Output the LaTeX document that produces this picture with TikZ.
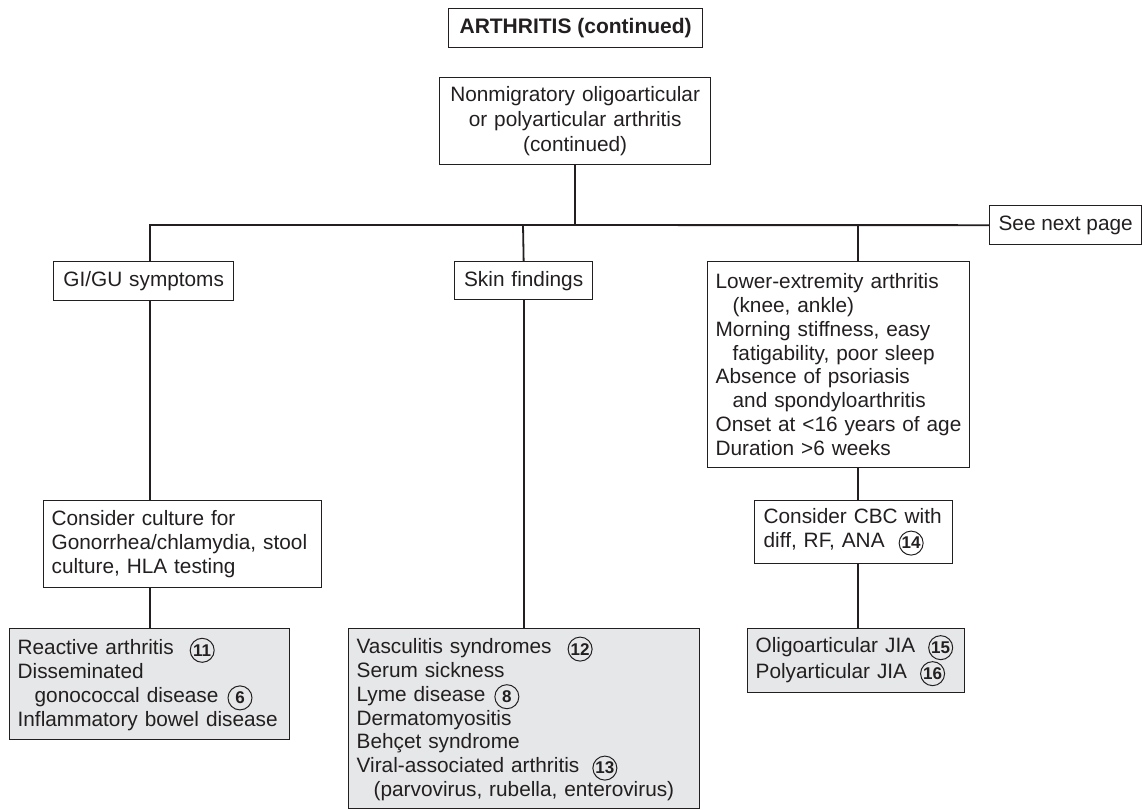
\documentclass[tikz,border=0pt]{standalone}
\usepackage{fontspec}
\setmainfont{Liberation Sans}
\definecolor{ink}{HTML}{231F20}
\definecolor{shade}{HTML}{E6E7E8}
\newcommand\cnum[1]{\tikz[baseline={([yshift=-4.5pt]cn.center)}]\node[draw=ink,circle,line width=1pt,inner sep=0pt,minimum size=24pt,font=\fontsize{17}{17}\selectfont\bfseries](cn){#1};}
\newcommand\ind{\hspace*{17pt}}
\newcommand\one[1]{\mbox{#1}}
\tikzset{
  box/.style={draw=ink,line width=1.3pt,inner xsep=8pt,inner ysep=0pt,anchor=north west,
    font=\fontsize{20.8}{23.8}\selectfont,text=ink},
  lbox/.style={box,align=left},
  cbox/.style={box,align=center},
  res/.style={lbox,fill=shade},
  conn/.style={draw=ink,line width=1.8pt}
}
\begin{document}
\begin{tikzpicture}[x=1pt,y=-1pt]
\useasboundingbox (0,0) rectangle (1142,809);
% boxes
\node[cbox,minimum width=254pt,minimum height=39pt,font=\fontsize{21}{23.8}\selectfont\bfseries] (title) at (448,8) {ARTHRITIS (continued)};
\node[cbox,minimum width=271pt,minimum height=87pt,text width=255pt,font=\fontsize{20.8}{24.6}\selectfont] (main) at (439,77) {Nonmigratory oligoarticular\\or polyarticular arthritis\\(continued)};
\node[lbox,minimum width=152pt,minimum height=39pt] (seenext) at (989,205) {See next page};
\node[cbox,minimum width=180pt,minimum height=39pt,text width=164pt] (gigu) at (53,261) {GI/GU symptoms};
\node[cbox,minimum width=138pt,minimum height=38pt,text width=122pt] (skin) at (454,261) {Skin findings};
\node[lbox,minimum width=262pt,minimum height=206pt,text width=246pt] (lower) at (707,261) {\one{Lower-extremity arthritis}\\\ind(knee, ankle)\\\one{Morning stiffness, easy}\\\ind\one{fatigability, poor sleep}\\Absence of psoriasis\\\ind\one{and spondyloarthritis}\\\one{Onset at <16 years of age}\\Duration >6 weeks};
\node[lbox,minimum width=278pt,minimum height=87pt,text width=262pt] (culture) at (43,500) {Consider culture for\\\one{Gonorrhea/chlamydia, stool}\\culture, HLA testing};
\node[lbox,minimum width=198pt,minimum height=63pt,text width=180pt,inner xsep=9pt] (cbc) at (754,500) {Consider CBC with\\\one{diff, RF, ANA\hspace{14pt}\cnum{14}}};
\node[res,minimum width=280pt,minimum height=111pt,text width=264pt] (reactive) at (9,628) {Reactive arthritis\hspace{16pt}\cnum{11}\\Disseminated\\\ind gonococcal disease\hspace{9pt}\cnum{6}\\\one{Inflammatory bowel disease}};
\node[res,minimum width=351pt,minimum height=180pt,text width=335pt] (vasc) at (348,628) {Vasculitis syndromes\hspace{16pt}\cnum{12}\\Serum sickness\\Lyme disease\hspace{9pt}\cnum{8}\\Dermatomyositis\\Behçet syndrome\\Viral-associated arthritis\hspace{13pt}\cnum{13}\\\ind\one{(parvovirus, rubella, enterovirus)}};
\node[res,minimum width=217pt,minimum height=64pt,text width=201pt] (oligo) at (747,628) {\one{Oligoarticular JIA\hspace{13pt}\cnum{15}}\\\one{Polyarticular JIA\hspace{13pt}\cnum{16}}};
% bus coordinates
\coordinate (bL) at (150,225);
\coordinate (bM) at (523,225);
\coordinate (bR) at (858,225);
% connectors
\draw[conn] (main.south) -- (main.south |- bL);
\draw[conn] (bL |- gigu.north) -- (bL) -- (seenext.west);
\draw[conn] (bM) -- (skin.north);
\draw[conn] (bR) -- (bR |- lower.north);
\draw[conn] (bL |- gigu.south) -- (bL |- culture.north);
\draw[conn] (bL |- culture.south) -- (bL |- reactive.north);
\draw[conn] (skin.south) -- (skin.south |- vasc.north);
\draw[conn] (bR |- lower.south) -- (bR |- cbc.north);
\draw[conn] (bR |- cbc.south) -- (bR |- oligo.north);
\end{tikzpicture}
\end{document}
